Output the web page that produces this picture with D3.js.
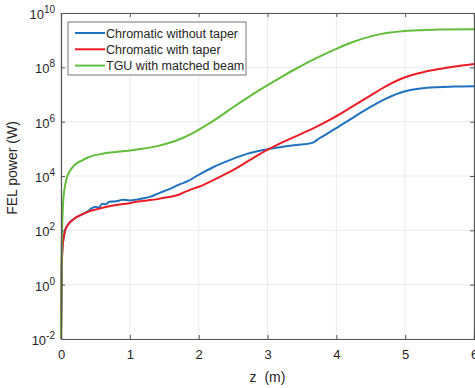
<!DOCTYPE html>
<html>
<head>
<meta charset="utf-8">
<script src="https://cdn.jsdelivr.net/npm/d3@7"></script>
<style>
  body { margin: 0; background: #fff; }
  text { font-family: "Liberation Sans", Arial, sans-serif; fill: #262626; }
</style>
</head>
<body>
<div id="plot"></div>
<script>
// z positions (m) and FEL power (W)
const zBlue = [0, 0.005, 0.01, 0.02, 0.04, 0.06, 0.1, 0.15, 0.2, 0.3, 0.35, 0.4, 0.45, 0.5, 0.55, 0.6, 0.65, 0.7, 0.8, 0.85, 0.9, 1.0, 1.1, 1.2, 1.3, 1.4, 1.5, 1.6, 1.73, 1.85, 1.97, 2.21, 2.46, 2.7, 2.94, 3.18, 3.42, 3.65, 3.76, 4.0, 4.25, 4.49, 4.73, 4.97, 5.22, 5.46, 5.7, 6.0];
const pBlue = [1e-2, 1.6e-1, 3.2, 2.0e1, 5.6e1, 1e2, 1.6e2, 2.2e2, 2.8e2, 3.8e2, 4.4e2, 5.2e2, 6.6e2, 7.2e2, 6.9e2, 9.5e2, 9.1e2, 1.12e3, 1.17e3, 1.26e3, 1.35e3, 1.26e3, 1.35e3, 1.51e3, 1.74e3, 2.2e3, 2.8e3, 3.5e3, 5.0e3, 6.6e3, 1.0e4, 2.1e4, 3.9e4, 6.5e4, 9.1e4, 1.15e5, 1.38e5, 1.66e5, 2.5e5, 5.8e5, 1.45e6, 3.4e6, 7.2e6, 1.26e7, 1.66e7, 1.86e7, 1.95e7, 2.0e7];

const zRed = [0, 0.005, 0.01, 0.02, 0.04, 0.06, 0.1, 0.15, 0.2, 0.3, 0.4, 0.5, 0.65, 0.8, 0.9, 1.0, 1.12, 1.25, 1.4, 1.55, 1.7, 1.8, 1.9, 2.0, 2.2, 2.45, 2.7, 2.95, 3.2, 3.45, 3.7, 3.95, 4.2, 4.5, 4.75, 5.0, 5.25, 5.5, 5.75, 6.0];
const pRed = [1e-2, 1.6e-1, 3.2, 2.0e1, 5.6e1, 1e2, 1.6e2, 2.2e2, 2.8e2, 3.8e2, 4.9e2, 5.8e2, 7.2e2, 8.5e2, 9.3e2, 1.0e3, 1.15e3, 1.26e3, 1.41e3, 1.66e3, 2.0e3, 2.6e3, 3.3e3, 4.0e3, 6.8e3, 1.41e4, 3.3e4, 7.9e4, 1.66e5, 3.2e5, 6.3e5, 1.35e6, 3.2e6, 9.3e6, 2.2e7, 4.3e7, 6.5e7, 8.7e7, 1.1e8, 1.32e8];

const zGreen = [0, 0.005, 0.01, 0.02, 0.03, 0.05, 0.08, 0.12, 0.2, 0.3, 0.4, 0.6, 0.9, 1.1, 1.4, 1.6, 1.75, 1.9, 2.1, 2.3, 2.5, 2.7, 2.9, 3.2, 3.4, 3.7, 4.0, 4.25, 4.5, 4.75, 5.0, 5.25, 5.5, 6.0];
const pGreen = [1e-2, 3.2e-1, 1.6e1, 2.5e2, 1e3, 3.2e3, 7.9e3, 1.4e4, 2.6e4, 3.7e4, 4.9e4, 6.6e4, 8.1e4, 9.5e4, 1.26e5, 1.74e5, 2.4e5, 3.6e5, 7.1e5, 1.51e6, 3.4e6, 7.4e6, 1.55e7, 4.4e7, 8.5e7, 2.14e8, 4.8e8, 8.7e8, 1.38e9, 1.86e9, 2.19e9, 2.34e9, 2.45e9, 2.5e9];

const seriesNames = ["Chromatic without taper", "Chromatic with taper", "TGU with matched beam"];
const seriesColors = ["#1f72bf", "#ec1c24", "#62bd3b"];
const xTicks = [0, 1, 2, 3, 4, 5, 6];
const yExps = [-2, 0, 2, 4, 6, 8, 10];

const series = [
  { name: seriesNames[0], color: seriesColors[0], pts: zBlue.map((z, i) => ({ z, p: pBlue[i] })) },
  { name: seriesNames[1], color: seriesColors[1], pts: zRed.map((z, i) => ({ z, p: pRed[i] })) },
  { name: seriesNames[2], color: seriesColors[2], pts: zGreen.map((z, i) => ({ z, p: pGreen[i] })) }
];

const w = 475, h = 388;
const margin = { left: 61, right: 1, top: 13, bottom: 49 };
const innerWidth = w - margin.left - margin.right;
const innerHeight = h - margin.top - margin.bottom;

const xScale = d3.scaleLinear().domain([0, 6]).range([0, innerWidth]);
const yScale = d3.scaleLog().domain([1e-2, 1e10]).range([innerHeight, 0]);

const svg = d3.select("div#plot")
  .append("svg")
  .attr("width", w)
  .attr("height", h);

const g = svg.append("g")
  .attr("id", "plotarea")
  .attr("transform", `translate(${margin.left}, ${margin.top})`);

// grid
g.append("g").selectAll("line")
  .data(xTicks)
  .enter().append("line")
  .attr("x1", d => xScale(d)).attr("x2", d => xScale(d))
  .attr("y1", 0).attr("y2", innerHeight)
  .attr("stroke", "#ebebeb").attr("stroke-width", 1);

g.append("g").selectAll("line")
  .data(yExps)
  .enter().append("line")
  .attr("x1", 0).attr("x2", innerWidth)
  .attr("y1", d => yScale(Math.pow(10, d))).attr("y2", d => yScale(Math.pow(10, d)))
  .attr("stroke", "#ebebeb").attr("stroke-width", 1);

// curves
const line = d3.line()
  .x(d => xScale(d.z))
  .y(d => yScale(d.p))
  .curve(d3.curveMonotoneX);

g.append("g").attr("id", "lines")
  .selectAll("path")
  .data(series)
  .enter().append("path")
  .attr("d", d => line(d.pts))
  .attr("fill", "none")
  .attr("stroke", d => d.color)
  .attr("stroke-width", 2)
  .attr("stroke-linejoin", "round");

// axes (box with inward ticks)
const yTickVals = yExps.map(e => Math.pow(10, e));
const xAxis = d3.axisBottom(xScale).tickValues(xTicks).tickSize(-4).tickPadding(11).tickFormat(d3.format("d"));
const xAxisTop = d3.axisTop(xScale).tickValues(xTicks).tickSize(-4);
const yAxis = d3.axisLeft(yScale).tickValues(yTickVals).tickSize(-4);
const yAxisRight = d3.axisRight(yScale).tickValues(yTickVals).tickSize(-4);

const axisColor = "#555";
function styleAxis(sel) {
  sel.selectAll("path, line").attr("stroke", axisColor);
  sel.select("path.domain").attr("stroke-width", 1.2);
  sel.selectAll("text").attr("font-size", 13).attr("fill", "#262626")
    .attr("font-family", "'Liberation Sans', Arial, sans-serif");
}

g.append("g").attr("id", "xaxis").attr("transform", `translate(0, ${innerHeight})`).call(xAxis).call(styleAxis);
g.append("g").call(xAxisTop).call(styleAxis).selectAll("text").remove();
g.append("g").attr("id", "yaxis").call(yAxis).call(styleAxis).selectAll("text").remove();
g.append("g").attr("transform", `translate(${innerWidth}, 0)`).call(yAxisRight).call(styleAxis).selectAll("text").remove();

// y tick labels with superscript exponents
const ylab = g.append("g").attr("id", "yticklabels");
yExps.forEach(e => {
  const t = ylab.append("text")
    .attr("x", -6)
    .attr("y", yScale(Math.pow(10, e)) + 6)
    .attr("text-anchor", "end")
    .attr("font-size", 13);
  t.append("tspan").text("10");
  t.append("tspan").attr("dy", -6).attr("font-size", 10).text(String(e));
});

// axis labels
g.append("text")
  .attr("x", innerWidth / 2)
  .attr("y", innerHeight + 43)
  .attr("text-anchor", "middle")
  .attr("font-size", 14)
  .attr("xml:space", "preserve")
  .text("z  (m)");

g.append("text")
  .attr("text-anchor", "middle")
  .attr("font-size", 14)
  .attr("transform", `translate(${-44}, ${innerHeight / 2 - 8}) rotate(-90)`)
  .text("FEL power (W)");

// legend
const legend = g.append("g").attr("id", "legend").attr("transform", "translate(7, 9)");
legend.append("rect")
  .attr("x", 0).attr("y", 0)
  .attr("width", 178).attr("height", 53)
  .attr("fill", "#fff")
  .attr("stroke", "#777").attr("stroke-width", 1);

const rows = legend.selectAll("g.row")
  .data(series)
  .enter().append("g")
  .attr("class", "row")
  .attr("transform", (d, i) => `translate(0, ${11 + i * 16.3})`);

rows.append("line")
  .attr("x1", 7).attr("x2", 37)
  .attr("y1", 0).attr("y2", 0)
  .attr("stroke", d => d.color)
  .attr("stroke-width", 2);

rows.append("text")
  .attr("x", 38).attr("y", 4.5)
  .attr("font-size", 12.5)
  .text(d => d.name);
</script>
</body>
</html>
